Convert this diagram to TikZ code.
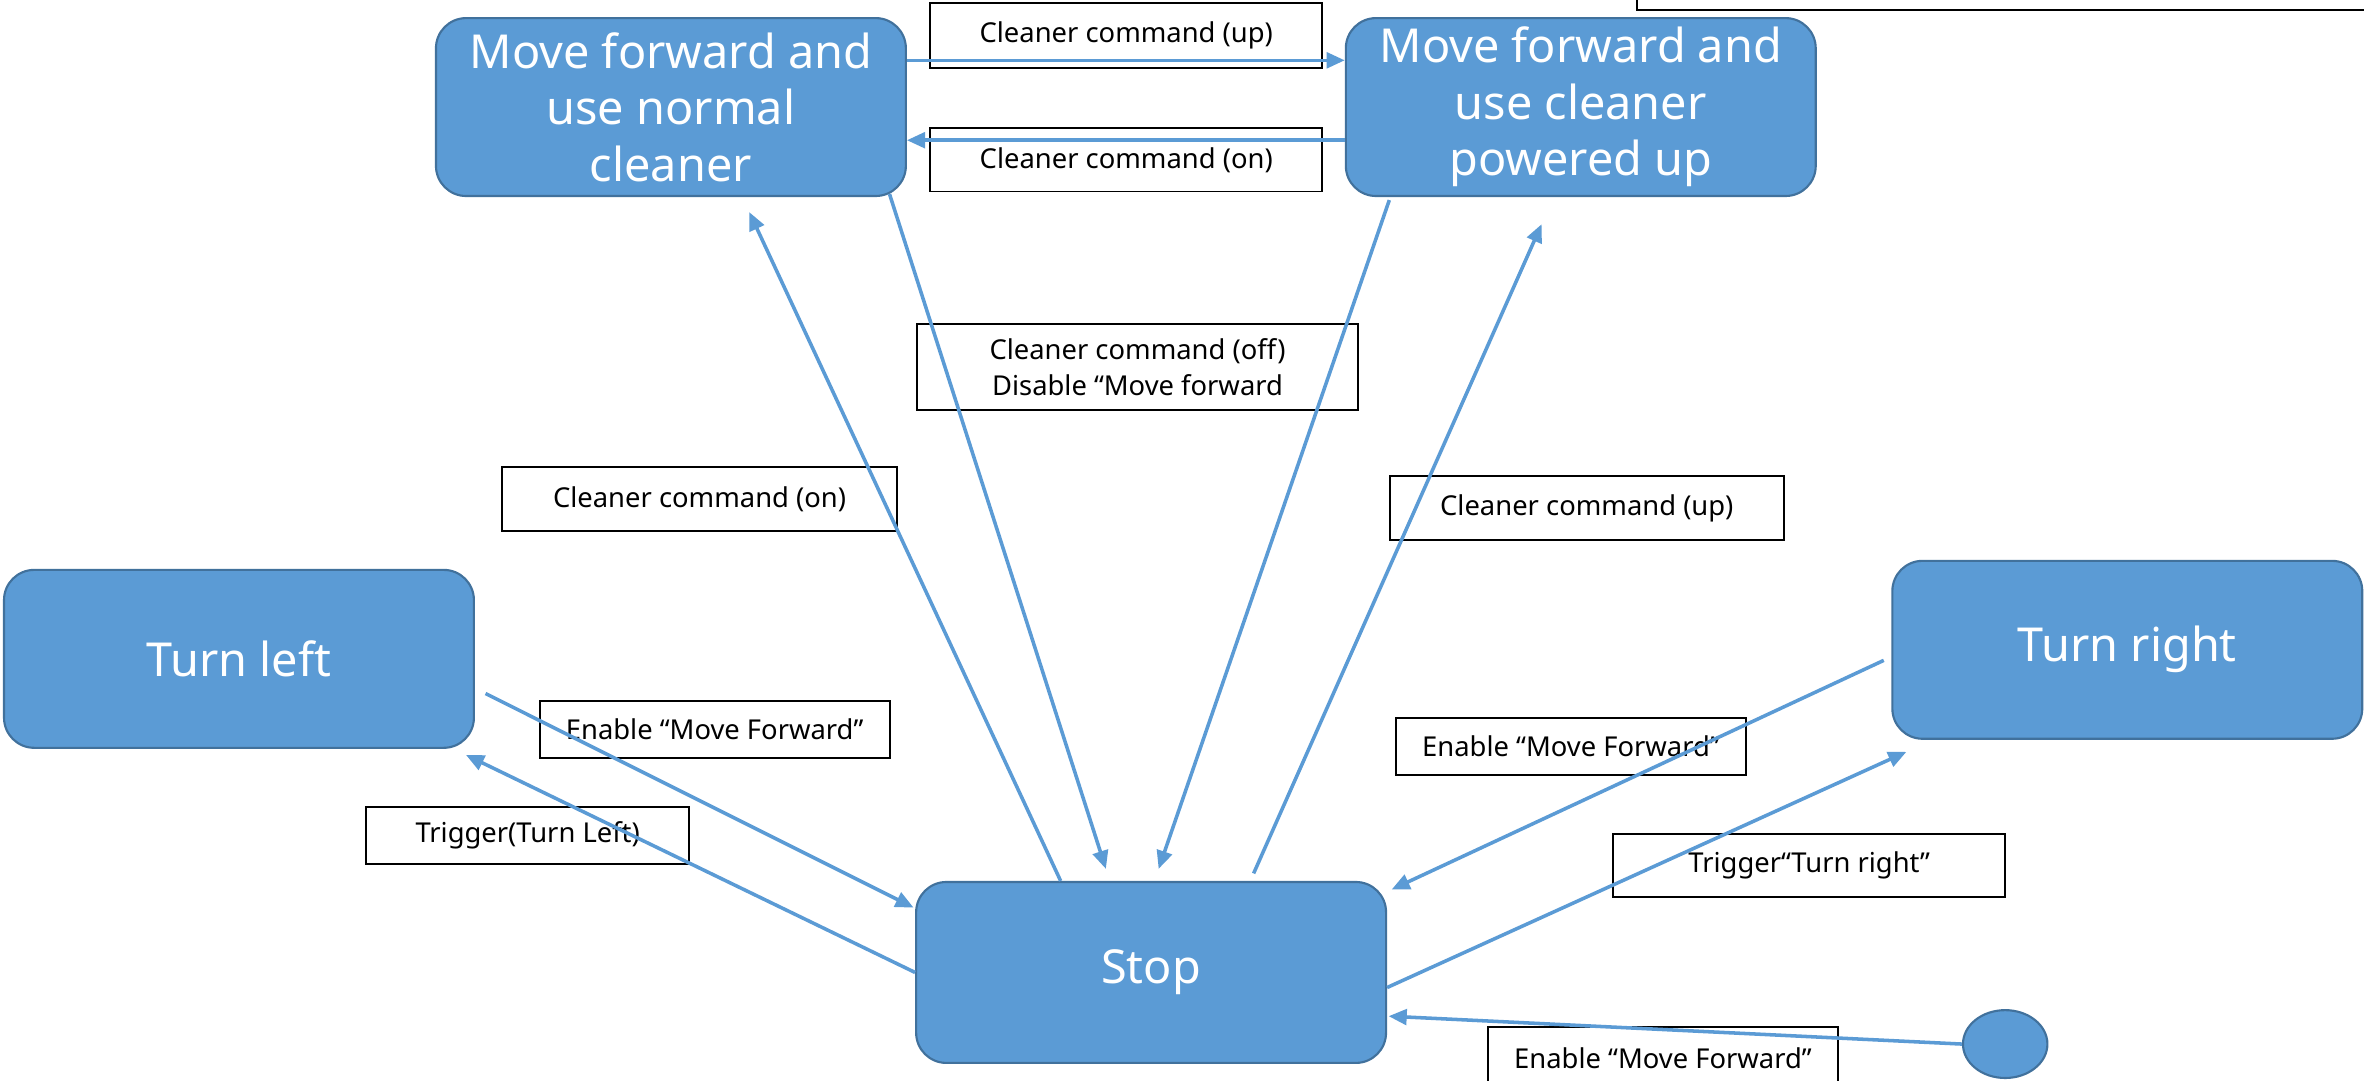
\documentclass[tikz,border=0pt]{standalone}
\usepackage{fontspec}
\setmainfont{Noto Sans}
\usetikzlibrary{positioning,calc,arrows.meta,shapes.geometric}
\definecolor{stfill}{HTML}{5B9BD5}
\definecolor{stdraw}{HTML}{41719C}
\begin{document}
\begin{tikzpicture}[x=0.03cm,y=-0.03cm,
	statebox/.style={draw=stdraw,fill=stfill,line width=1.2pt,rounded corners=0.6cm,minimum width=9.35cm,minimum height=3.54cm,text=white,align=center,font=\fontsize{26.5}{32}\selectfont},
	lbl/.style={draw=black,line width=1.1pt,inner sep=0pt,align=center,font=\fontsize{15.5}{20.5}\selectfont},
	arr/.style={draw=stfill,line width=2pt,-{Triangle[length=3.6mm,width=3.1mm]}}]
			\clip (0,0) rectangle (1568,717);
			\fill[white] (0,0) rectangle (1568,717);
			\node (normal)  at (445, 71) [statebox]  {Move forward and\\use normal\\cleaner};
			\node (powered) at (1048.5, 71) [statebox]  {Move forward and\\use cleaner\\powered up};
			\node (left)    at (158.5, 437) [statebox]  {Turn left};
			\node (right)   at (1411, 431) [statebox]  {Turn right};
			\node (stop)    at (763.5, 645) [statebox,minimum height=3.6cm]  {\raisebox{-0.2cm}{Stop}};
			\node (init)    at (1330, 692.5) [draw=stdraw,fill=stfill,line width=1.2pt,ellipse,minimum width=1.68cm,minimum height=1.35cm,inner sep=0pt] {};
			\node (cut)     at (1343, -16) [lbl,minimum width=15.42cm,minimum height=1.35cm] {};
			\node (lup)     at (747, 23.5) [lbl,minimum width=7.8cm,minimum height=1.29cm]  {Cleaner command (up)};
			\node (lon)     at (747, 106) [lbl,minimum width=7.8cm,minimum height=1.26cm]  {Cleaner command (on)};
			\node (loff)    at (754.5, 243.5) [lbl,minimum width=8.79cm,minimum height=1.71cm]  {Cleaner command (off)\\Disable “Move forward};
			\node (lonl)    at (464, 331) [lbl,minimum width=7.86cm,minimum height=1.26cm]  {Cleaner command (on)};
			\node (lupr)    at (1052.5, 337) [lbl,minimum width=7.83cm,minimum height=1.26cm]  {Cleaner command (up)};
			\node (lenl)    at (474, 484) [lbl,minimum width=6.96cm,minimum height=1.14cm]  {Enable “Move Forward”};
			\node (ltrigl)  at (350, 554) [lbl,minimum width=6.42cm,minimum height=1.14cm]  {Trigger(Turn Left)};
			\node (lenr)    at (1042, 495) [lbl,minimum width=6.96cm,minimum height=1.14cm]  {Enable “Move Forward”};
			\node (ltrigr)  at (1200, 574) [lbl,minimum width=7.8cm,minimum height=1.26cm]  {Trigger“Turn right”};
			\node (lenb)    at (1103, 702) [lbl,minimum width=6.96cm,minimum height=1.26cm]  {Enable “Move Forward”};
			\draw [arr] ($(normal.east)+(0,-31)$) -- ($(powered.west)+(0,-31)$);
			\draw [arr] ($(powered.west)+(0,22)$) -- ($(normal.east)+(0,22)$);
			\draw [arr] ($(stop.north)+(-60,0)$) -- ($(normal.south)+(52,10)$);
			\draw [arr] ($(normal.south)+(145,-2)$) -- ($(stop.north)+(-30,-8)$);
			\draw [arr] ($(powered.south)+(-127,2)$) -- ($(stop.north)+(5,-8)$);
			\draw [arr] ($(stop.north)+(68,-5)$) -- ($(powered.south)+(-26,18)$);
			\draw [arr] ($(left.east)+(7,23)$) -- ($(stop.west)+(-1,-43)$);
			\draw [arr] (stop.west) -- ($(left.south east)+(-6,4)$);
			\draw [arr] ($(right.west)+(-5,7)$) -- ($(stop.east)+(3,-55)$);
			\draw [arr] ($(stop.east)+(0,10)$) -- ($(right.south west)+(10,8)$);
			\draw [arr] (init.west) -- ($(stop.east)+(1,29)$);
		\end{tikzpicture}
\end{document}
